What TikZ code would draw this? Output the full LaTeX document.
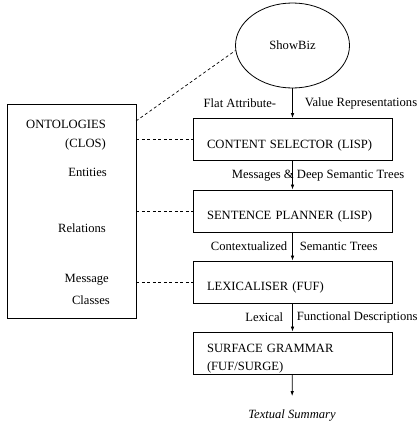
\documentclass[tikz,border=0pt]{standalone}
\usepackage{fontspec}
\setmainfont{Liberation Serif}
\usetikzlibrary{arrows.meta,positioning,shapes.geometric}

\tikzset{
  stagebox/.style={draw, line width=0.8pt, text width=171pt, inner xsep=14pt, minimum height=42pt,
    align=left, text height=17pt, text depth=0pt},
  flow/.style={-{Latex[length=5pt,width=3.5pt]}, line width=0.7pt},
  flowlabel/.style={inner sep=0pt},
  linkline/.style={line width=0.7pt, dash pattern=on 3pt off 2.5pt},
  ontotext/.style={anchor=base east, inner sep=0pt},
}

\begin{document}
\fontsize{12.6}{18}\selectfont
\begin{tikzpicture}[x=1pt, y=-1pt]
  \useasboundingbox (0,0) rectangle (418,423);

  % pipeline
  \node[draw, ellipse, line width=0.8pt, minimum width=114pt, minimum height=85pt] (showbiz) at (292.5,45.5) {ShowBiz};
  \node[stagebox] (selector) at (292.5,139.5) {CONTENT SELECTOR (LISP)};
  \node[stagebox] (planner)  at (292.5,211)   {SENTENCE PLANNER (LISP)};
  \node[stagebox] (lexic)    at (292.5,282)   {LEXICALISER (FUF)};
  \node[stagebox, text height=20pt, text depth=22pt, inner ysep=0pt] (grammar) at (292.5,353) {SURFACE GRAMMAR\\(FUF/SURGE)};
  \node[font=\itshape, inner sep=0pt] (summary) at (292,415) {Textual Summary};

  % knowledge sources
  \node[draw, line width=0.8pt, minimum width=129pt, minimum height=214pt] (onto) at (71.5,211) {};
  \node[ontotext] (ontoname) at (106,128.2) {ONTOLOGIES};
  \node[ontotext] (ontolang) at (106,147.2) {(CLOS)};
  \node[ontotext] (entities) at (107,176.2) {Entities};
  \node[ontotext] (relations) at (106,232.2) {Relations};
  \node[ontotext] (msgone) at (109,282.2) {Message};
  \node[ontotext] (msgtwo) at (110,304.2) {Classes};
  \coordinate (ontocorner) at (136,121);

  \draw[linkline] (ontocorner) -- (showbiz.185);
  \draw[linkline] (onto.east |- selector.west) -- (selector.west);
  \draw[linkline] (onto.east |- planner.west) -- (planner.west);
  \draw[linkline] (onto.east |- lexic.west) -- (lexic.west);

  \draw[flow] (showbiz) -- (selector)
    node[flowlabel, midway, left=16pt] {Flat Attribute-}
    node[flowlabel, midway, right=12pt] {Value Representations};
  \draw[flow] (selector) -- (planner)
    node[flowlabel, midway, anchor=west, xshift=-61pt] {Messages \& Deep Semantic Trees};
  \draw[flow] (planner) -- (lexic)
    node[flowlabel, midway, left=5pt] {Contextualized}
    node[flowlabel, midway, right=7pt] {Semantic Trees};
  \draw[flow] (lexic) -- (grammar)
    node[flowlabel, midway, left=9pt] {Lexical}
    node[flowlabel, midway, right=4pt] {Functional Descriptions};
  \draw[flow, shorten >=13pt] (grammar) -- (summary);
\end{tikzpicture}
\end{document}
